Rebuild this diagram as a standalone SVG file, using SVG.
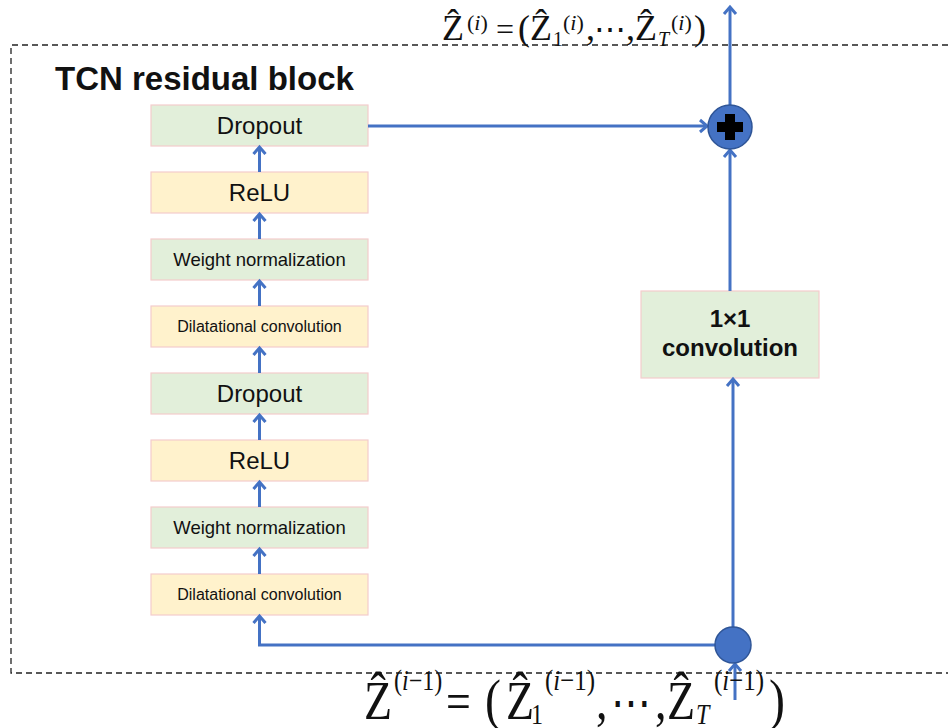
<svg xmlns="http://www.w3.org/2000/svg" width="948" height="728" viewBox="0 0 948 728">
<defs>
<marker id="ah" markerUnits="userSpaceOnUse" markerWidth="16" markerHeight="16" viewBox="0 0 16 16" refX="13" refY="8" orient="auto">
<path d="M6,2 L13,8 L6,14" fill="none" stroke="#4472c4" stroke-width="3" stroke-linejoin="miter"/>
</marker>
<style>
.box{stroke:#f4cccc;stroke-width:1.2}
.g{fill:#e2efda}
.o{fill:#fff2cc}
.lbl{font-family:"Liberation Sans",Arial,sans-serif;fill:#111;text-anchor:middle}
.conn{fill:none;stroke:#4472c4;stroke-width:3}
.m{font-family:"Liberation Serif","DejaVu Serif",serif;fill:#111}
.it{font-style:italic}
</style>
</defs>
<rect width="948" height="728" fill="#ffffff"/>
<path d="M948,45 H11 V673 H948" fill="none" stroke="#222" stroke-width="1.3" stroke-dasharray="6,4"/>
<text x="55" y="90" font-family="Liberation Sans,Arial,sans-serif" font-weight="bold" font-size="33" fill="#111">TCN residual block</text>

<g id="dropout2"><rect class="box g" x="151" y="105" width="217" height="41"/><text class="lbl" x="259.5" y="134" font-size="24">Dropout</text></g>
<g id="relu2"><rect class="box o" x="151" y="172" width="217" height="41"/><text class="lbl" x="259.5" y="201" font-size="24">ReLU</text></g>
<g id="wn2"><rect class="box g" x="151" y="239" width="217" height="41"/><text class="lbl" x="259.5" y="266" font-size="18.5">Weight normalization</text></g>
<g id="dc2"><rect class="box o" x="151" y="306" width="217" height="41"/><text class="lbl" x="259.5" y="332" font-size="16">Dilatational convolution</text></g>
<g id="dropout1"><rect class="box g" x="151" y="373" width="217" height="41"/><text class="lbl" x="259.5" y="402" font-size="24">Dropout</text></g>
<g id="relu1"><rect class="box o" x="151" y="440" width="217" height="41"/><text class="lbl" x="259.5" y="469" font-size="24">ReLU</text></g>
<g id="wn1"><rect class="box g" x="151" y="507" width="217" height="41"/><text class="lbl" x="259.5" y="534" font-size="18.5">Weight normalization</text></g>
<g id="dc1"><rect class="box o" x="151" y="574" width="217" height="41"/><text class="lbl" x="259.5" y="600" font-size="16">Dilatational convolution</text></g>
<g id="conv1x1"><rect class="box g" x="641" y="291" width="178" height="87"/><text class="lbl" x="730" y="327" font-size="24" font-weight="bold">1×1</text><text class="lbl" x="730" y="356" font-size="24" font-weight="bold">convolution</text></g>

<g id="connectors">
<path class="conn" d="M259.5,172 V147" marker-end="url(#ah)"/>
<path class="conn" d="M259.5,239 V214" marker-end="url(#ah)"/>
<path class="conn" d="M259.5,306 V281" marker-end="url(#ah)"/>
<path class="conn" d="M259.5,373 V348" marker-end="url(#ah)"/>
<path class="conn" d="M259.5,440 V415" marker-end="url(#ah)"/>
<path class="conn" d="M259.5,507 V482" marker-end="url(#ah)"/>
<path class="conn" d="M259.5,574 V549" marker-end="url(#ah)"/>
<path class="conn" d="M716,645 H259.5 V616" marker-end="url(#ah)"/>
<path class="conn" d="M368,126 H707" marker-end="url(#ah)"/>
<path class="conn" d="M733,627 V379" marker-end="url(#ah)"/>
<path class="conn" d="M730,291 V150" marker-end="url(#ah)"/>
<path class="conn" d="M730,105 V7" marker-end="url(#ah)"/>
<path class="conn" d="M735,700 V664" marker-end="url(#ah)"/>
</g>

<g id="add">
<circle cx="730" cy="127" r="22" fill="#4472c4" stroke="#2f5597" stroke-width="1.5"/>
<path d="M725,114 H735 V122 H743 V132 H735 V140 H725 V132 H717 V122 H725 Z" fill="#000"/>
</g>
<g id="split">
<circle cx="733" cy="645" r="18" fill="#4472c4" stroke="#2f5597" stroke-width="1.5"/>
</g>

<g id="formula-top" class="m">
<text x="442" y="40" font-size="36">Ẑ</text>
<text x="467" y="30" font-size="22">(<tspan class="it">i</tspan>)</text>
<text x="496" y="40" font-size="32">=</text>
<text x="518" y="40" font-size="36">(</text>
<text x="530" y="40" font-size="36">Ẑ</text>
<text x="553" y="46" font-size="20">1</text>
<text x="563" y="30" font-size="22">(<tspan class="it">i</tspan>)</text>
<text x="586" y="40" font-size="36">,</text>
<text x="594" y="40" font-size="32">⋯</text>
<text x="626" y="40" font-size="36">,</text>
<text x="635" y="40" font-size="36">Ẑ</text>
<text x="658" y="46" font-size="20" class="it">T</text>
<text x="671" y="30" font-size="22">(<tspan class="it">i</tspan>)</text>
<text x="694" y="40" font-size="36">)</text>
</g>

<g id="formula-bottom" class="m" transform="translate(0,719) scale(1,1.2)">
<text x="364" y="0" font-size="46">Ẑ</text>
<text x="394" y="-24" font-size="24">(<tspan class="it">i</tspan>−1)</text>
<text x="446" y="0" font-size="44">=</text>
<text x="485" y="0" font-size="48">(</text>
<text x="506" y="0" font-size="46">Ẑ</text>
<text x="531" y="4" font-size="24">1</text>
<text x="545" y="-24" font-size="25">(<tspan class="it">i</tspan>−1)</text>
<text x="596" y="0" font-size="46">,</text>
<text x="611" y="0" font-size="40">⋯</text>
<text x="655" y="0" font-size="46">,</text>
<text x="667" y="0" font-size="46">Ẑ</text>
<text x="696" y="4" font-size="24" class="it">T</text>
<text x="714" y="-24" font-size="25">(<tspan class="it">i</tspan>−1)</text>
<text x="769" y="0" font-size="48">)</text>
</g>
</svg>
